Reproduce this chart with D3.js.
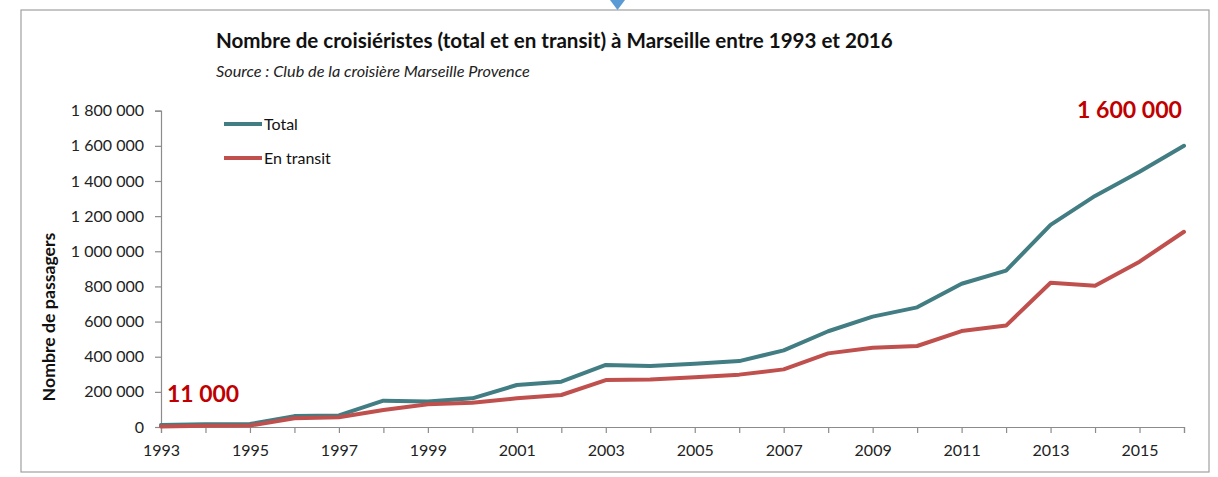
<!DOCTYPE html>
<html>
<head>
<meta charset="utf-8">
<script src="https://cdn.jsdelivr.net/npm/d3@7"></script>
<style>
  body { margin: 0; background: #fff; }
  svg { display: block; font-family: Lato, "Open Sans", sans-serif; }
</style>
</head>
<body>
<svg width="1218" height="477"></svg>
<script>
// données
const years = d3.range(1993, 2017);
const totalValues = [11000, 15000, 17000, 62000, 66000, 150000, 145000, 163000, 239000, 258000,
  353000, 347000, 360000, 375000, 436000, 545000, 628000, 681000, 815000, 890000,
  1150000, 1315000, 1453000, 1600000];
const transitValues = [3000, 7000, 8000, 50000, 55000, 97000, 129000, 138000, 163000, 182000,
  267000, 270000, 283000, 298000, 328000, 419000, 451000, 461000, 546000, 577000,
  821000, 804000, 941000, 1111000];
const yTicks = [0, 200000, 400000, 600000, 800000, 1000000, 1200000, 1400000, 1600000, 1800000];
const xLabelYears = [1993, 1995, 1997, 1999, 2001, 2003, 2005, 2007, 2009, 2011, 2013, 2015];
const seriesNames = ["Total", "En transit"];
const seriesColors = ["#417d82", "#c0504d"];

const svg = d3.select("svg");
const fr = d3.formatLocale({ decimal: ",", thousands: "\u00a0", grouping: [3], currency: ["", " €"] });
const fmt = fr.format(",");

// cadre
svg.append("rect")
  .attr("x", 21).attr("y", 10).attr("width", 1188).attr("height", 462)
  .attr("fill", "#fff").attr("stroke", "#a0a0a0").attr("stroke-width", 1.2);

// petit triangle bleu en haut
svg.append("path")
  .attr("d", "M610,0 L625,0 L617.5,10 Z")
  .attr("fill", "#5b9bd5");

const x = d3.scaleLinear().domain([1993, 2016]).range([161, 1184]);
const y = d3.scaleLinear().domain([0, 1800000]).range([427, 110.7]);

// ajuste la taille d'un texte à une largeur donnée
function fit(sel, target) {
  const w = sel.node().getComputedTextLength();
  const fs = parseFloat(sel.attr("font-size"));
  sel.attr("font-size", (fs * target / w).toFixed(2));
}

// titre
const title = svg.append("text")
  .attr("x", 216).attr("y", 48)
  .attr("font-size", 18).attr("font-weight", "bold").attr("fill", "#111")
  .text("Nombre de croisiéristes (total et en transit) à Marseille entre 1993 et 2016");
fit(title, 677);

const sub = svg.append("text")
  .attr("x", 216).attr("y", 77)
  .attr("font-size", 13).attr("font-style", "italic").attr("fill", "#222")
  .text("Source : Club de la croisière Marseille Provence");
fit(sub, 314);

// axe y
const yAxis = svg.append("g")
  .attr("transform", "translate(161,0)")
  .call(d3.axisLeft(y).tickValues(yTicks).tickSize(6).tickPadding(11).tickFormat(d => fmt(d)));
yAxis.select(".domain").attr("stroke", "#8c8c8c").attr("stroke-width", 1.2);
yAxis.selectAll(".tick line").attr("stroke", "#8c8c8c").attr("stroke-width", 1.2);
yAxis.selectAll(".tick text")
  .attr("font-family", "Lato, sans-serif").attr("font-size", 16).attr("fill", "#222");

// axe x
const xAxis = svg.append("g")
  .attr("transform", "translate(0,427)")
  .call(d3.axisBottom(x).tickValues(years).tickSize(6).tickPadding(12)
    .tickFormat(d => xLabelYears.includes(d) ? d : ""));
xAxis.select(".domain").attr("stroke", "#8c8c8c").attr("stroke-width", 1.2);
xAxis.selectAll(".tick line").attr("stroke", "#8c8c8c").attr("stroke-width", 1.2);
xAxis.selectAll(".tick text")
  .attr("font-family", "Lato, sans-serif").attr("font-size", 16).attr("fill", "#222");

// titre axe y
const yTitle = svg.append("text")
  .attr("transform", "translate(55,317) rotate(-90)")
  .attr("text-anchor", "middle")
  .attr("font-size", 14).attr("font-weight", "bold").attr("fill", "#111")
  .text("Nombre de passagers");
fit(yTitle, 169);

// courbes
const line = d3.line().x((d, i) => x(years[i])).y(d => y(d));
[totalValues, transitValues].forEach((vals, k) => {
  svg.append("path")
    .datum(vals)
    .attr("d", line)
    .attr("fill", "none")
    .attr("stroke", seriesColors[k])
    .attr("stroke-width", 4)
    .attr("stroke-linejoin", "round")
    .attr("stroke-linecap", "round");
});

// légende
const legend = svg.append("g");
seriesNames.forEach((name, k) => {
  const ly = 124 + k * 34;
  legend.append("line")
    .attr("x1", 224).attr("x2", 262).attr("y1", ly).attr("y2", ly)
    .attr("stroke", seriesColors[k]).attr("stroke-width", 4);
  legend.append("text")
    .attr("x", 264).attr("y", ly).attr("dy", "0.35em")
    .attr("font-size", 16).attr("fill", "#111")
    .text(name);
});

// annotations
const a1 = svg.append("text")
  .attr("x", 167).attr("y", 402)
  .attr("font-size", 23).attr("font-weight", "bold").attr("fill", "#c00000")
  .text(fmt(11000));
fit(a1, 72);
const a2 = svg.append("text")
  .attr("x", 1182).attr("y", 118).attr("text-anchor", "end")
  .attr("font-size", 23).attr("font-weight", "bold").attr("fill", "#c00000")
  .text(fmt(1600000));
fit(a2, 105);
</script>
</body>
</html>
